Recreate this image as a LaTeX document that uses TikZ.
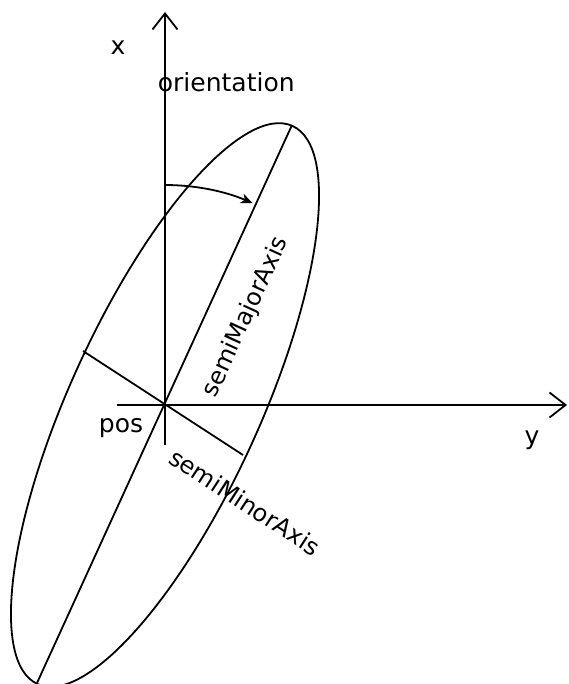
\documentclass[tikz,border=0pt]{standalone}
\usepackage{fontspec}
\setmainfont{DejaVu Sans}
\usetikzlibrary{arrows.meta}
\begin{document}
\begin{tikzpicture}[x=1pt,y=-1pt,
  line width=1.8pt,
  axisline/.style={-{Straight Barb[length=16pt,width=25pt,line width=1.8pt]}},
  rotarrow/.style={-{Stealth[length=12pt,width=10pt,inset=3.5pt]}},
  lbl/.style={font=\fontsize{25}{30}\selectfont, inner sep=0pt}]
\useasboundingbox (0,0) rectangle (568,684);
% coordinates
\coordinate (pos) at (165,405);
\coordinate (xbot) at (165,445);
\coordinate (xtop) at (165,12);
\coordinate (yleft) at (117,405);
\coordinate (yright) at (567,405);
\coordinate (majTop) at (292,125);
\coordinate (majBot) at (37,683);
\coordinate (minL) at (83,351);
\coordinate (minR) at (243,455);
\coordinate (orStart) at (165,185);
% axes
\draw[axisline] (xbot) -- (xtop);
\draw[axisline] (yleft) -- (yright);
% ellipse
\draw (pos) ellipse [x radius=306.8pt, y radius=95pt, rotate=65.44];
% axes of ellipse
\draw (majBot) -- (majTop);
\draw (minL) -- (minR);
% orientation arc
\draw[rotarrow] (orStart) arc [start angle=90, end angle=66.5, radius=220pt];
% labels
\node[lbl, anchor=base] (lx) at (118,55) {x};
\node[lbl, anchor=base west] (lor) at (157,92) {orientation};
\node[lbl, anchor=base east] (lpos) at (144,432) {pos};
\node[lbl, anchor=base] (ly) at (532,444) {y};
\node[lbl, rotate=65.44, font=\fontsize{24}{29}\selectfont] (lmaj) at (246,317) {semiMajorAxis};
\node[lbl, rotate=-33, font=\fontsize{24}{29}\selectfont] (lmin) at (245,502) {semiMinorAxis};
\end{tikzpicture}
\end{document}
